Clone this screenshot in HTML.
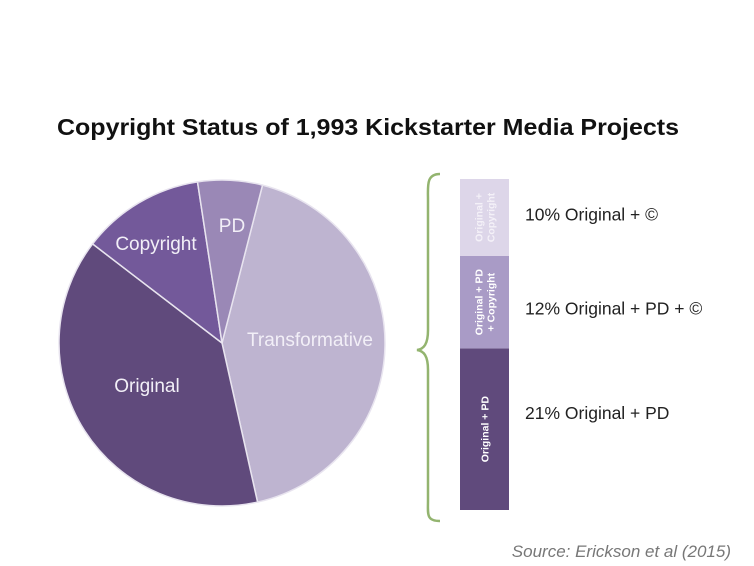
<!DOCTYPE html>
<html><head><meta charset="utf-8"><style>
html,body{margin:0;padding:0;background:#fff;}
svg{display:block;font-family:"Liberation Sans",sans-serif;}
</style></head><body>
<svg id="chart" width="754" height="566" viewBox="0 0 754 566">
<text x="368" y="135" text-anchor="middle" font-size="23" font-weight="bold" fill="#111" textLength="622" lengthAdjust="spacingAndGlyphs">Copyright Status of 1,993 Kickstarter Media Projects</text>
<g id="pie"></g>
<path d="M440,174 C426,174 428,186 428,200 L428,330 C428,344 424,349 417,350 C424,351 428,356 428,370 L428,500 C428,514 426,521 440,521" fill="none" stroke="#93b46f" stroke-width="2.5"/>
<g id="bar"></g>
<text x="731" y="557" text-anchor="end" font-size="17" font-style="italic" fill="#777">Source: Erickson et al (2015)</text>
</svg>
<script>
const pieLabels=["Transformative","Original","Copyright","PD"];
const pieValues=[42.5,38.9,12.2,6.4];
const pieColors=["#beb4d0","#604a7c","#73599a","#9a88b6"];
const barLabels=["Original + PD","Original + PD|+ Copyright","Original +|Copyright"];
const barValues=[21,12,10];
const barTexts=["21% Original + PD","12% Original + PD + ©","10%  Original + ©"];
const barColors=["#604a7c","#a99bc6","#ddd6e9"];

const NS="http://www.w3.org/2000/svg";
function mk(t,a,p){const e=document.createElementNS(NS,t);for(const k in a)e.setAttribute(k,a[k]);p.appendChild(e);return e;}
const cx=222,cy=343,r=163,startDeg=14.4;
const total=pieValues.reduce((a,b)=>a+b,0);
function pt(deg,rad){const a=(deg-90)*Math.PI/180;return [cx+rad*Math.cos(a),cy+rad*Math.sin(a)];}
const pie=document.getElementById('pie');
let ang=startDeg;
const labelPos={"Transformative":[310,346],"Original":[147,392],"Copyright":[156,250],"PD":[232,232]};
pieValues.forEach((v,i)=>{
  const sweep=v/total*360,a0=ang,a1=ang+sweep;
  const [x0,y0]=pt(a0,r),[x1,y1]=pt(a1,r);
  const p=mk('path',{d:`M${cx},${cy} L${x0},${y0} A${r},${r} 0 ${sweep>180?1:0} 1 ${x1},${y1} Z`,fill:pieColors[i],stroke:"#e8e4ef","stroke-width":1.5},pie);
  
  
  const lp=labelPos[pieLabels[i]];
  const t=mk('text',{x:lp[0],y:lp[1],"text-anchor":"middle","font-size":19,fill:"#f2eff7"},pie);
  t.textContent=pieLabels[i];
  
  
  ang=a1;
});
const bar=document.getElementById('bar');
const bx=460,bw=49,bBottom=510,scale=331/43;
const annotFrac=[0.4,0.57,0.46];
let y=bBottom;
barValues.forEach((v,i)=>{
  const h=v*scale;y-=h;
  const rc=mk('rect',{x:bx,y:y,width:bw,height:h,fill:barColors[i]},bar);
  
  
  const lines=barLabels[i].split('|');
  const mx=bx+bw/2,my=y+h/2;
  const g=mk('text',{transform:`translate(${mx},${my}) rotate(-90)`,"text-anchor":"middle","font-size":10.5,"font-weight":"bold",fill:i==2?"#f4f1f8":"#fff"},bar);
  
  
  lines.forEach((l,j)=>{const ts=mk('tspan',{x:0,y:(j-(lines.length-1)/2)*12+4},g);ts.textContent=l;});
  const tt=mk('text',{x:525,y:y+h*annotFrac[i]+6,"font-size":17.5,fill:"#222"},bar);
  tt.textContent=barTexts[i];
  
  
});
</script>
</body></html>
